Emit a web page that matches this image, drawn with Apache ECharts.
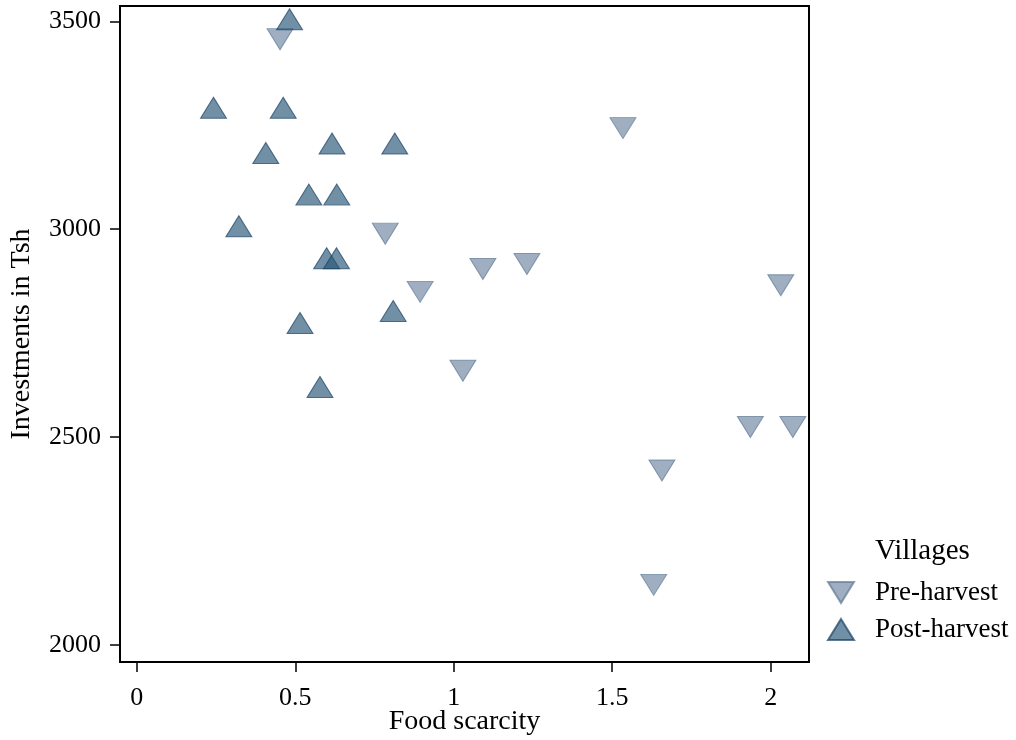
<!DOCTYPE html>
<html>
<head>
<meta charset="utf-8">
<script src="https://cdn.jsdelivr.net/npm/echarts@6/dist/echarts.min.js"></script>
<style>
html,body{margin:0;padding:0;background:#fff;}
#chart{width:1016px;height:740px;}
</style>
</head>
<body>
<div id="chart"></div>
<script>
// Pre-harvest villages: [food scarcity, investments in Tsh]
const preHarvestX = [0.452, 0.784, 1.534, 1.092, 1.231, 0.894, 1.029, 2.032, 1.936, 2.070, 1.657, 1.631];
const preHarvestY = [3457, 2989, 3243, 2904, 2916, 2849, 2659, 2865, 2524, 2524, 2419, 2144];
// Post-harvest villages
const postHarvestX = [0.482, 0.242, 0.462, 0.407, 0.616, 0.814, 0.543, 0.631, 0.322, 0.599, 0.630, 0.515, 0.809, 0.578];
const postHarvestY = [3505, 3292, 3292, 3183, 3206, 3206, 3083, 3083, 3007, 2930, 2930, 2774, 2803, 2620];

const xTicks = [0, 0.5, 1, 1.5, 2];
const yTicks = [2000, 2500, 3000, 3500];
const seriesNames = ['Pre-harvest', 'Post-harvest'];
const legendTitle = 'Villages';
const xTitle = 'Food scarcity';
const yTitle = 'Investments in Tsh';

const font = '"Liberation Serif", "Times New Roman", serif';
const zip = (xs, ys) => xs.map((x, i) => [x, ys[i]]);

const chart = echarts.init(document.getElementById('chart'), null, {renderer: 'canvas'});
chart.setOption({
  backgroundColor: '#ffffff',
  animation: false,
  textStyle: {fontFamily: font, color: '#000'},
  title: {
    text: legendTitle,
    left: 875,
    top: 537,
    padding: 0,
    textStyle: {fontFamily: font, fontSize: 29, fontWeight: 'normal', color: '#000'}
  },
  legend: {
    orient: 'vertical',
    left: 822,
    top: 574,
    itemWidth: 26,
    itemHeight: 21,
    itemGap: 10,
    data: seriesNames,
    textStyle: {fontFamily: font, fontSize: 27, color: '#000', lineHeight: 27, padding: [0, 0, 0, 16]}
  },
  grid: {
    left: 120, right: 207, top: 6, bottom: 78,
    show: true, borderColor: '#000', borderWidth: 2,
    containLabel: false, outerBoundsMode: 'none'
  },
  xAxis: {
    type: 'value',
    min: -0.053, max: 2.121,
    name: xTitle,
    nameLocation: 'middle',
    nameGap: 46,
    nameMoveOverlap: false,
    nameTextStyle: {fontFamily: font, fontSize: 28, color: '#000'},
    axisLine: {show: true, onZero: false, lineStyle: {color: '#000', width: 2}},
    axisTick: {show: true, length: 10, lineStyle: {color: '#000', width: 1.5}, customValues: xTicks},
    axisLabel: {fontFamily: font, fontSize: 26, color: '#000', margin: 23, customValues: xTicks,
      formatter: v => String(v)},
    splitLine: {show: false}
  },
  yAxis: {
    type: 'value',
    min: 1958.4, max: 3536.8,
    name: yTitle,
    nameLocation: 'middle',
    nameGap: 84,
    nameMoveOverlap: false,
    nameTextStyle: {fontFamily: font, fontSize: 28, color: '#000'},
    axisLine: {show: true, onZero: false, lineStyle: {color: '#000', width: 2}},
    axisTick: {show: true, length: 10, lineStyle: {color: '#000', width: 1.5}, customValues: yTicks},
    axisLabel: {fontFamily: font, fontSize: 26, color: '#000', margin: 19, customValues: yTicks,
      formatter: v => String(v)},
    splitLine: {show: false}
  },
  series: [
    {
      name: seriesNames[0],
      type: 'scatter',
      symbol: 'path://M0,0L2,0L1,1.62Z',
      symbolSize: [26, 21],
      itemStyle: {color: 'rgba(105,130,158,0.8)', borderColor: 'rgba(92,118,146,0.85)', borderWidth: 1},
      data: zip(preHarvestX, preHarvestY)
    },
    {
      name: seriesNames[1],
      type: 'scatter',
      symbol: 'triangle',
      symbolSize: [26, 21],
      itemStyle: {color: 'rgba(40,86,118,0.82)', borderColor: 'rgba(20,62,96,0.85)', borderWidth: 1},
      data: zip(postHarvestX, postHarvestY)
    }
  ]
});
</script>
</body>
</html>
